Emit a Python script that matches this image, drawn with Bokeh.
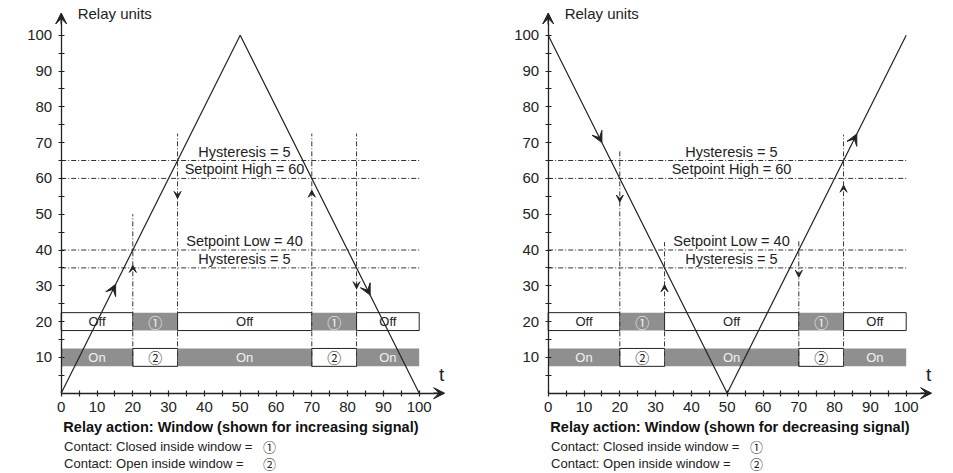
from bokeh.plotting import figure
from bokeh.layouts import row
from bokeh.models import FixedTicker, Arrow, VeeHead, Range1d, ColumnDataSource
from bokeh.core.properties import value
from bokeh.embed import file_html
from bokeh.resources import INLINE

# ---------------- data ----------------
t_points = [0, 50, 100]
signal_increasing = [0, 100, 0]
signal_decreasing = [100, 0, 100]

setpoint_high = 60
setpoint_low = 40
hysteresis = 5
level_values = [setpoint_high + hysteresis, setpoint_high, setpoint_low, setpoint_low - hysteresis]
level_labels = ["Hysteresis = 5", "Setpoint High = 60", "Setpoint Low = 40", "Hysteresis = 5"]

switch_t = [20, 32.5, 70, 82.5]
state_edges = [0, 20, 32.5, 70, 82.5, 100]
contact1_labels = ["Off", "\u2460", "Off", "\u2460", "Off"]
contact1_active = [False, True, False, True, False]
contact2_labels = ["On", "\u2461", "On", "\u2461", "On"]
contact2_active = [True, False, True, False, True]
contact1_row = 20
contact2_row = 10

x_ticks = [0, 10, 20, 30, 40, 50, 60, 70, 80, 90, 100]
y_ticks = [10, 20, 30, 40, 50, 60, 70, 80, 90, 100]
minor_ticks = [5, 15, 25, 35, 45, 55, 65, 75, 85, 95]

# guide (vertical dashed) line tops and arrow tips for each chart
guide_top_inc = [50, 72.5, 72.5, 72.5]
guide_arrow_inc = [35.7, 54.4, 56.7, 29.2]
guide_dir_inc = [1, -1, 1, -1]
guide_top_dec = [68, 42.2, 42.7, 72.2]
guide_arrow_dec = [53.4, 30.3, 32.4, 58.1]
guide_dir_dec = [-1, 1, -1, 1]

signal_arrow_t_inc = [15.2, 86.3]
signal_arrow_t_dec = [15.0, 86.2]

title_inc = "Relay action: Window (shown for increasing signal)"
title_dec = "Relay action: Window (shown for decreasing signal)"
contact_texts = ["Contact: Closed inside window =", "Contact: Open inside window ="]
contact_marks = ["\u2460", "\u2461"]

# ---------------- styling ----------------
FONT = value("Liberation Sans")
SYM_FONT = value("Noto Sans CJK JP")
DARK = "#222222"
GRAY = "#8f8f8f"
DASH = "5 2 1 2"
PX = 3.58   # pixels per data unit
H = 472


def value_at(ts, vs, t):
    for i in range(len(ts) - 1):
        if ts[i] <= t <= ts[i + 1]:
            s = (vs[i + 1] - vs[i]) / (ts[i + 1] - ts[i])
            return vs[i] + (t - ts[i]) * s, s
    return vs[-1], 0


def build(signal, guide_top, guide_arrow, guide_dir, sig_arrow_t, title, width, x0_px):
    xs = -x0_px / PX
    xe = xs + width / PX
    y0_px = 392.7
    ye = y0_px / PX
    ys = -(H - y0_px) / PX
    p = figure(width=width, height=H, x_range=Range1d(xs, xe), y_range=Range1d(ys, ye),
               output_backend="svg", toolbar_location=None, min_border=0,
               outline_line_color=None)
    p.grid.visible = False
    for ax, ticks, bnd in ((p.xaxis[0], x_ticks, (0, 106)), (p.yaxis[0], y_ticks, (0, 105))):
        ax.fixed_location = 0
        ax.bounds = bnd
        ax.ticker = FixedTicker(ticks=ticks, minor_ticks=minor_ticks)
        ax.axis_line_color = DARK
        ax.axis_line_width = 1.3
        ax.major_tick_in = 3
        ax.major_tick_out = 3
        ax.minor_tick_in = 3
        ax.minor_tick_out = 3
        ax.major_tick_line_color = DARK
        ax.minor_tick_line_color = DARK
        ax.major_tick_line_width = 1.2
        ax.minor_tick_line_width = 1.2
        ax.major_label_text_font = "Liberation Sans"
        ax.major_label_text_font_size = "15px"
        ax.major_label_text_color = DARK
        ax.major_label_standoff = 6

    # axis arrows
    p.add_layout(Arrow(end=VeeHead(size=11, fill_color=DARK, line_color=DARK),
                       x_start=104, y_start=0, x_end=107.1, y_end=0, line_color=DARK, line_width=1.3))
    p.add_layout(Arrow(end=VeeHead(size=11, fill_color=DARK, line_color=DARK),
                       x_start=0, y_start=103, x_end=0, y_end=106.2, line_color=DARK, line_width=1.3))

    # contact state bands
    for rowy, labels, active in ((contact1_row, contact1_labels, contact1_active),
                                 (contact2_row, contact2_labels, contact2_active)):
        left = state_edges[:-1]
        right = state_edges[1:]
        cx = [(a + b) / 2 for a, b in zip(left, right)]
        tcol = ["#f2f2f2" if a else DARK for a in active]
        src = ColumnDataSource(dict(
            left=left, right=right,
            bottom=[rowy - 2.5] * len(left), top=[rowy + 2.5] * len(left),
            fill=[GRAY if a else "white" for a in active],
            line=[None if a else DARK for a in active]))
        p.quad(left="left", right="right", bottom="bottom", top="top", source=src,
               fill_color="fill", line_color="line", line_width=1)
        is_word = [l in ("On", "Off") for l in labels]
        words = ColumnDataSource(dict(
            x=[c for c, w in zip(cx, is_word) if w],
            y=[rowy] * sum(is_word),
            text=[l for l, w in zip(labels, is_word) if w],
            col=[c for c, w in zip(tcol, is_word) if w]))
        p.text(x="x", y="y", text="text", source=words, text_font=FONT, text_font_size="13px",
               text_color="col", text_align="center", text_baseline="middle")
        syms = ColumnDataSource(dict(
            x=[c for c, w in zip(cx, is_word) if not w],
            y=[rowy] * (len(labels) - sum(is_word)),
            text=[l for l, w in zip(labels, is_word) if not w],
            col=[c for c, w in zip(tcol, is_word) if not w]))
        p.text(x="x", y="y", text="text", source=syms, text_font=SYM_FONT, text_font_size="14px",
               text_color="col", text_align="center", text_baseline="middle")

    # horizontal setpoint/hysteresis lines
    p.segment(x0=[0] * 4, x1=[100] * 4, y0=level_values, y1=level_values,
              line_color="#333333", line_width=1, line_dash=DASH)
    p.text(x=[51.2] * 4, y=[v + 2.5 for v in level_values], text=level_labels,
           text_font=FONT, text_font_size="14.5px", text_color=DARK,
           text_align="center", text_baseline="middle")

    # vertical guide lines with small arrows
    p.segment(x0=switch_t, x1=switch_t, y0=[7.5] * 4, y1=guide_top,
              line_color="#333333", line_width=1, line_dash=DASH)
    for t, yv, d in zip(switch_t, guide_arrow, guide_dir):
        p.add_layout(Arrow(end=VeeHead(size=7, fill_color=DARK, line_color=DARK),
                           x_start=t, y_start=yv - d * 2, x_end=t, y_end=yv, line_alpha=0))

    # signal
    p.line(t_points, signal, line_color=DARK, line_width=1.2)
    for ta in sig_arrow_t:
        ya, slope = value_at(t_points, signal, ta)
        p.add_layout(Arrow(end=VeeHead(size=11, fill_color=DARK, line_color=DARK),
                           x_start=ta - 1, y_start=ya - slope, x_end=ta, y_end=ya, line_alpha=0))

    # texts
    p.text(x=[4.6], y=[106.1], text=["Relay units"], text_font=FONT, text_font_size="15px",
           text_color=DARK, text_align="left", text_baseline="middle")
    p.text(x=[106.3], y=[5.2], text=["t"], text_font=FONT, text_font_size="19px",
           text_color=DARK, text_align="center", text_baseline="middle")
    p.text(x=[0.6], y=[-9.4], text=[title], text_font=FONT, text_font_size="14.5px",
           text_font_style="bold", text_color="#111111", text_align="left", text_baseline="middle")
    p.text(x=[0.8, 0.8], y=[-15.0, -19.6], text=contact_texts, text_font=FONT,
           text_font_size="13px", text_color=DARK, text_align="left", text_baseline="middle")
    p.text(x=[58.2, 58.2], y=[-15.0, -19.6], text=contact_marks, text_font=SYM_FONT,
           text_font_size="13px", text_color=DARK, text_align="center", text_baseline="middle")
    return p


p1 = build(signal_increasing, guide_top_inc, guide_arrow_inc, guide_dir_inc,
           signal_arrow_t_inc, title_inc, 478, 60.7)
p2 = build(signal_decreasing, guide_top_dec, guide_arrow_dec, guide_dir_dec,
           signal_arrow_t_dec, title_dec, 474, 69.7)

layout = row(p1, p2)
open("out.html", "w").write(file_html(layout, INLINE))
